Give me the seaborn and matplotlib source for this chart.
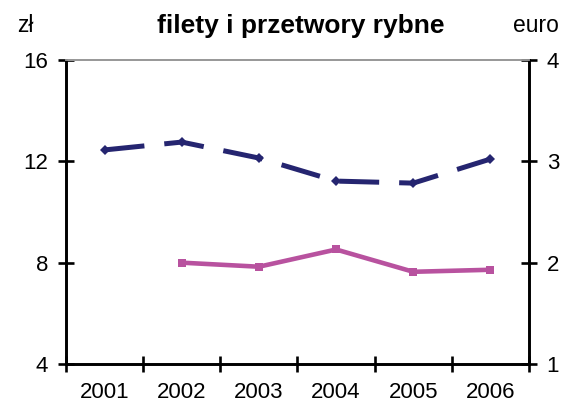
import numpy as np
import pandas as pd
import matplotlib
matplotlib.use('Agg')
import matplotlib.pyplot as plt
import seaborn as sns

years = ['2001', '2002', '2003', '2004', '2005', '2006']
price_pln = [12.45, 12.76, 12.13, 11.22, 11.14, 12.09]   # zł, left axis
price_eur = [np.nan, 2.00, 1.96, 2.13, 1.91, 1.93]       # euro, right axis

sns.set_style('white')
plt.rcParams['font.family'] = ['Liberation Sans', 'DejaVu Sans']
plt.rcParams['text.color'] = 'black'
plt.rcParams['xtick.color'] = 'black'
plt.rcParams['ytick.color'] = 'black'

df = pd.DataFrame({'pos': range(len(years)), 'pln': price_pln, 'eur': price_eur})

W, H = 565, 407
fig, ax = plt.subplots(figsize=(W / 100, H / 100), dpi=100)
fig.subplots_adjust(left=66 / W, right=529 / W, top=1 - 60 / H, bottom=1 - 364 / H)

sns.lineplot(data=df, x='pos', y='pln', ax=ax, color='#252570', lw=3.6,
             marker='D', markersize=5, markeredgewidth=0,
             dashes=False, linestyle=(0, (8, 4)))

ax2 = ax.twinx()
sns.lineplot(data=df.dropna(), x='pos', y='eur', ax=ax2, color='#b8529f', lw=3.3,
             marker='s', markersize=5.5, markeredgewidth=0)

ax.set_xlim(-0.5, len(years) - 0.5)
ax.set_ylim(4, 16)
ax2.set_ylim(1, 4)
ax.set_yticks([4, 8, 12, 16])
ax2.set_yticks([1, 2, 3, 4])
ax.set_xticks(range(len(years)))
ax.set_xticklabels(years)
ax.set_xticks(np.arange(-0.5, len(years)), minor=True)
ax.set_xlabel('')
ax.set_ylabel('')
ax2.set_ylabel('')

for a in (ax, ax2):
    for side in ('left', 'right', 'bottom'):
        a.spines[side].set_color('black')
        a.spines[side].set_linewidth(1.9)
    a.spines['top'].set_color('#999999')
    a.spines['top'].set_linewidth(1.3)

ax.tick_params(axis='x', which='major', length=0, labelsize=16, pad=13)
ax.tick_params(axis='x', which='minor', direction='inout', length=11.5, width=1.9, color='black', bottom=True)
ax.tick_params(axis='y', direction='inout', length=11.5, width=1.9, labelsize=16, left=True, color='black', pad=7)
ax2.tick_params(axis='y', direction='inout', length=11.5, width=1.9, labelsize=16, right=True, color='black', pad=7)

fig.text(17 / W, 1 - 32 / H, 'zł', fontsize=16.5, va='baseline')
fig.text(301 / W, 1 - 33 / H, 'filety i przetwory rybne', fontsize=19, fontweight='bold',
         ha='center', va='baseline')
fig.text(513 / W, 1 - 32 / H, 'euro', fontsize=16.5, va='baseline')

fig.savefig('out.png', dpi=100)
